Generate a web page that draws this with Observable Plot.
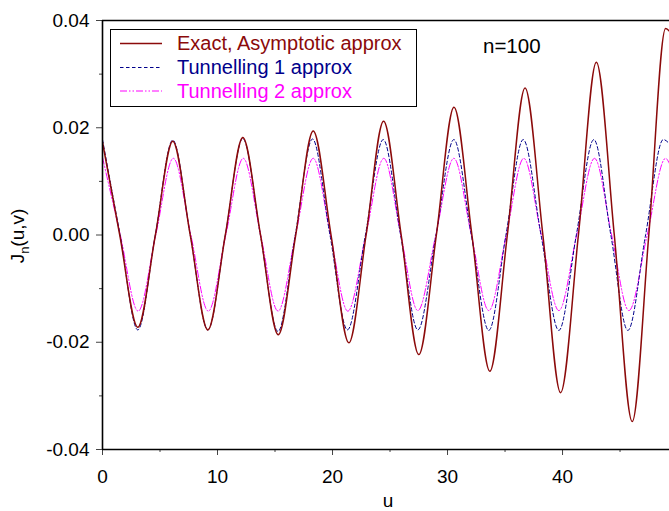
<!DOCTYPE html>
<html><head><meta charset="utf-8">
<script src="https://cdn.jsdelivr.net/npm/d3@7"></script>
<script src="https://cdn.jsdelivr.net/npm/@observablehq/plot@0.6"></script>
<style>body{margin:0;background:#fff;} svg{display:block}</style>
</head><body><div id="chart"></div>
<script>
// Exact, Asymptotic approx: extrema and zero crossings
const exactU = [0, 1.5, 3.07, 4.6, 6.11, 7.63, 9.16, 10.68, 12.2, 13.74, 15.28, 16.8, 18.32, 19.87, 21.42, 22.92, 24.44, 25.97, 27.5, 29.03, 30.56, 32.12, 33.68, 35.2, 36.74, 38.29, 39.83, 41.38, 42.94, 44.5, 46.06, 47.5, 48.96, 49.3];
const exactV = [0.0173, 0, -0.0172, 0, 0.0175, 0, -0.0177, 0, 0.0182, 0, -0.0186, 0, 0.0194, 0, -0.0201, 0, 0.0212, 0, -0.0223, 0, 0.0238, 0, -0.0254, 0, 0.0274, 0, -0.0294, 0, 0.0322, 0, -0.0348, 0, 0.0385, 0.0380];
// Tunnelling 1 approx
const tun1U = [0, 1.53, 3.07, 4.59, 6.11, 7.63, 9.16, 10.68, 12.2, 13.73, 15.26, 16.76, 18.26, 19.78, 21.3, 22.86, 24.41, 25.92, 27.42, 29.0, 30.55, 32.07, 33.59, 35.08, 36.58, 38.13, 39.68, 41.2, 42.72, 44.2, 45.68, 47.22, 48.76, 49.3];
const tun1V = [0.0178, 0, -0.0177, 0, 0.0177, 0, -0.0177, 0, 0.0180, 0, -0.0180, 0, 0.0179, 0, -0.0177, 0, 0.0178, 0, -0.0177, 0, 0.0178, 0, -0.0178, 0, 0.0178, 0, -0.0178, 0, 0.0178, 0, -0.0178, 0, 0.0178, 0.0170];
// Tunnelling 2 approx
const tun2U = [0, 1.55, 3.1, 4.63, 6.16, 7.68, 9.2, 10.72, 12.24, 13.75, 15.26, 16.79, 18.32, 19.82, 21.33, 22.9, 24.46, 25.94, 27.42, 28.98, 30.55, 32.07, 33.59, 35.11, 36.63, 38.15, 39.68, 41.23, 42.78, 44.27, 45.77, 47.36, 48.96, 49.3];
const tun2V = [0.0145, 0, -0.0142, 0, 0.0143, 0, -0.0142, 0, 0.0143, 0, -0.0142, 0, 0.0143, 0, -0.0142, 0, 0.0143, 0, -0.0141, 0, 0.0143, 0, -0.0141, 0, 0.0143, 0, -0.0141, 0, 0.0143, 0, -0.0141, 0, 0.0143, 0.0133];

const seriesNames = ["Exact, Asymptotic approx", "Tunnelling 1 approx", "Tunnelling 2 approx"];
const seriesColors = ["#8b0a0a", "#00008b", "#ff00ff"];
const seriesDash = [null, "3.5,2.5", "7,2,1.5,2,1.5,2"];
const seriesWidth = [1.5, 1, 1];
const xMajorTicks = [0, 10, 20, 30, 40];
const xMinorTicks = [5, 15, 25, 35, 45];
const yMajorTicks = [-0.04, -0.02, 0, 0.02, 0.04];
const yMinorTicks = [-0.03, -0.01, 0.01, 0.03];
const annotation = "n=100";
const xLabel = "u";

const rows = (us, vs, s) => us.map((u, i) => ({u, v: vs[i], s}));
const series = [rows(exactU, exactV, 0), rows(tun1U, tun1V, 1), rows(tun2U, tun2V, 2)];

const W = 669, H = 511;
const font = "'Liberation Sans', Arial, Helvetica, sans-serif";
const plot = Plot.plot({
  width: W, height: H,
  marginLeft: 102, marginTop: 20, marginBottom: 62, marginRight: 0,
  style: {fontFamily: font, fontSize: "19px", color: "#000", background: "#fff", overflow: "visible"},
  x: {domain: [0, 49.3]},
  y: {domain: [-0.04, 0.04]},
  marks: [
    ...[2, 1, 0].map(k => Plot.line(series[k], {
      x: "u", y: "v", stroke: seriesColors[k], strokeWidth: seriesWidth[k],
      strokeDasharray: seriesDash[k] ?? undefined, curve: "monotone-x", clip: true
    })),
    Plot.axisX(xMajorTicks, {tickSize: 6, tickPadding: 14, fontSize: 19, tickFormat: d => String(d), label: null, stroke: "#444"}),
    Plot.axisX(xMinorTicks, {tickSize: 3, tickFormat: () => "", label: null, stroke: "#444"}),
    Plot.axisY(yMajorTicks, {tickSize: 6, tickPadding: 7, fontSize: 19, tickFormat: d => d.toFixed(2), label: null, stroke: "#444"}),
    Plot.axisY(yMinorTicks, {tickSize: 3, tickFormat: () => "", label: null, stroke: "#444"}),
    Plot.ruleY([-0.04, 0.04], {stroke: "#000", strokeWidth: 1.6}),
    Plot.ruleX([0], {stroke: "#000", strokeWidth: 1.6})
  ]
});
document.getElementById("chart").appendChild(plot);

const svg = d3.select(plot);
// Legend
const lg = svg.append("g").attr("font-family", font).attr("font-size", 20).attr("text-anchor", "start");
lg.append("rect").attr("x", 110.5).attr("y", 29.5).attr("width", 306).attr("height", 77)
  .attr("fill", "#fff").attr("stroke", "#000").attr("stroke-width", 1);
const rowY = [43.5, 67.5, 91];
seriesNames.forEach((name, k) => {
  lg.append("line").attr("x1", 120).attr("x2", 162).attr("y1", rowY[k]).attr("y2", rowY[k])
    .attr("stroke", seriesColors[k]).attr("stroke-width", seriesWidth[k])
    .attr("stroke-dasharray", seriesDash[k]);
  lg.append("text").attr("x", 177).attr("y", rowY[k] + 6.5).attr("text-anchor", "start")
    .attr("fill", seriesColors[k]).text(name);
});
// annotation
svg.append("text").attr("x", 483).attr("y", 53).attr("text-anchor", "start").attr("font-family", font).attr("font-size", 20.5)
  .attr("fill", "#000").text(annotation);
// y label
const yl = svg.append("text").attr("transform", "translate(24,236) rotate(-90)")
  .attr("text-anchor", "middle").attr("font-family", font).attr("font-size", 19).attr("fill", "#000");
yl.append("tspan").text("J");
yl.append("tspan").attr("dy", 5).attr("font-size", 13).text("n");
yl.append("tspan").attr("dy", -5).text("(u,v)");
// x label
svg.append("text").attr("x", 388).attr("y", 507).attr("text-anchor", "middle")
  .attr("font-family", font).attr("font-size", 19).attr("fill", "#000").text(xLabel);
</script>
</body></html>
